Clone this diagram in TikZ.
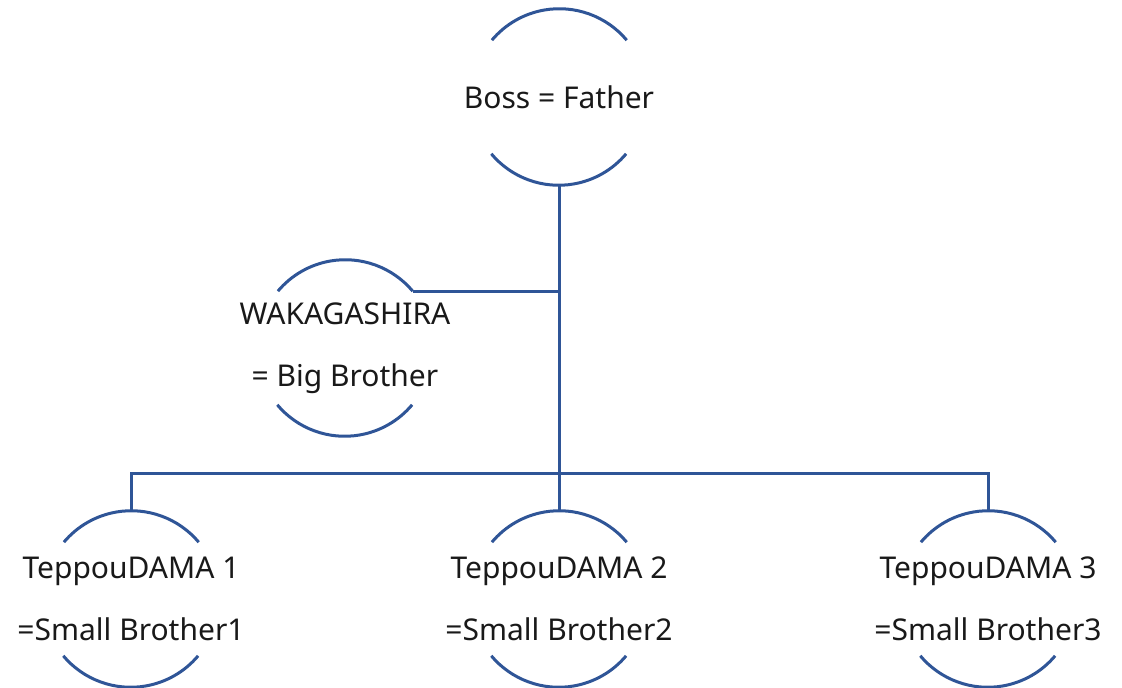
\documentclass[tikz,border=0pt]{standalone}
\usepackage{fontspec}
\setmainfont{Noto Sans}
\definecolor{lineblue}{HTML}{2F5597}
\begin{document}
\begin{tikzpicture}[x=0.5pt,y=-0.5pt,
  member/.style={circle,inner sep=0pt,minimum size=88pt,
    label={[align=center,font=\fontsize{15pt}{31pt}\selectfont,text=black!90]center:#1}},
  arcline/.style={draw=lineblue,line width=1.5pt},
  link/.style={draw=lineblue,line width=1.5pt}]
\useasboundingbox (0,0) rectangle (1122,688);
\node[member={Boss = Father}] (boss) at (559,97) {};
\node[member={WAKAGASHIRA\\= Big Brother}] (waka) at (345,348) {};
\node[member={TeppouDAMA 1\\=Small Brother1}] (t1) at (131,599) {};
\node[member={TeppouDAMA 2\\=Small Brother2}] (t2) at (559,599) {};
\node[member={TeppouDAMA 3\\=Small Brother3}] (t3) at (988,599) {};
\foreach \n in {boss,waka,t1,t2,t3}{
  \draw[arcline] (\n.40) arc[start angle=40,end angle=140,radius=44pt];
  \draw[arcline] (\n.-140) arc[start angle=-140,end angle=-40,radius=44pt];
}
\coordinate (bus) at (559,474);
\draw[link] (boss.south) -- (bus);
\draw[link] (waka.40) -- (waka.40 -| boss.south);
\draw[link] (t1.north) |- (bus) -| (t3.north);
\draw[link] (bus) -- (t2.north);
\end{tikzpicture}
\end{document}
